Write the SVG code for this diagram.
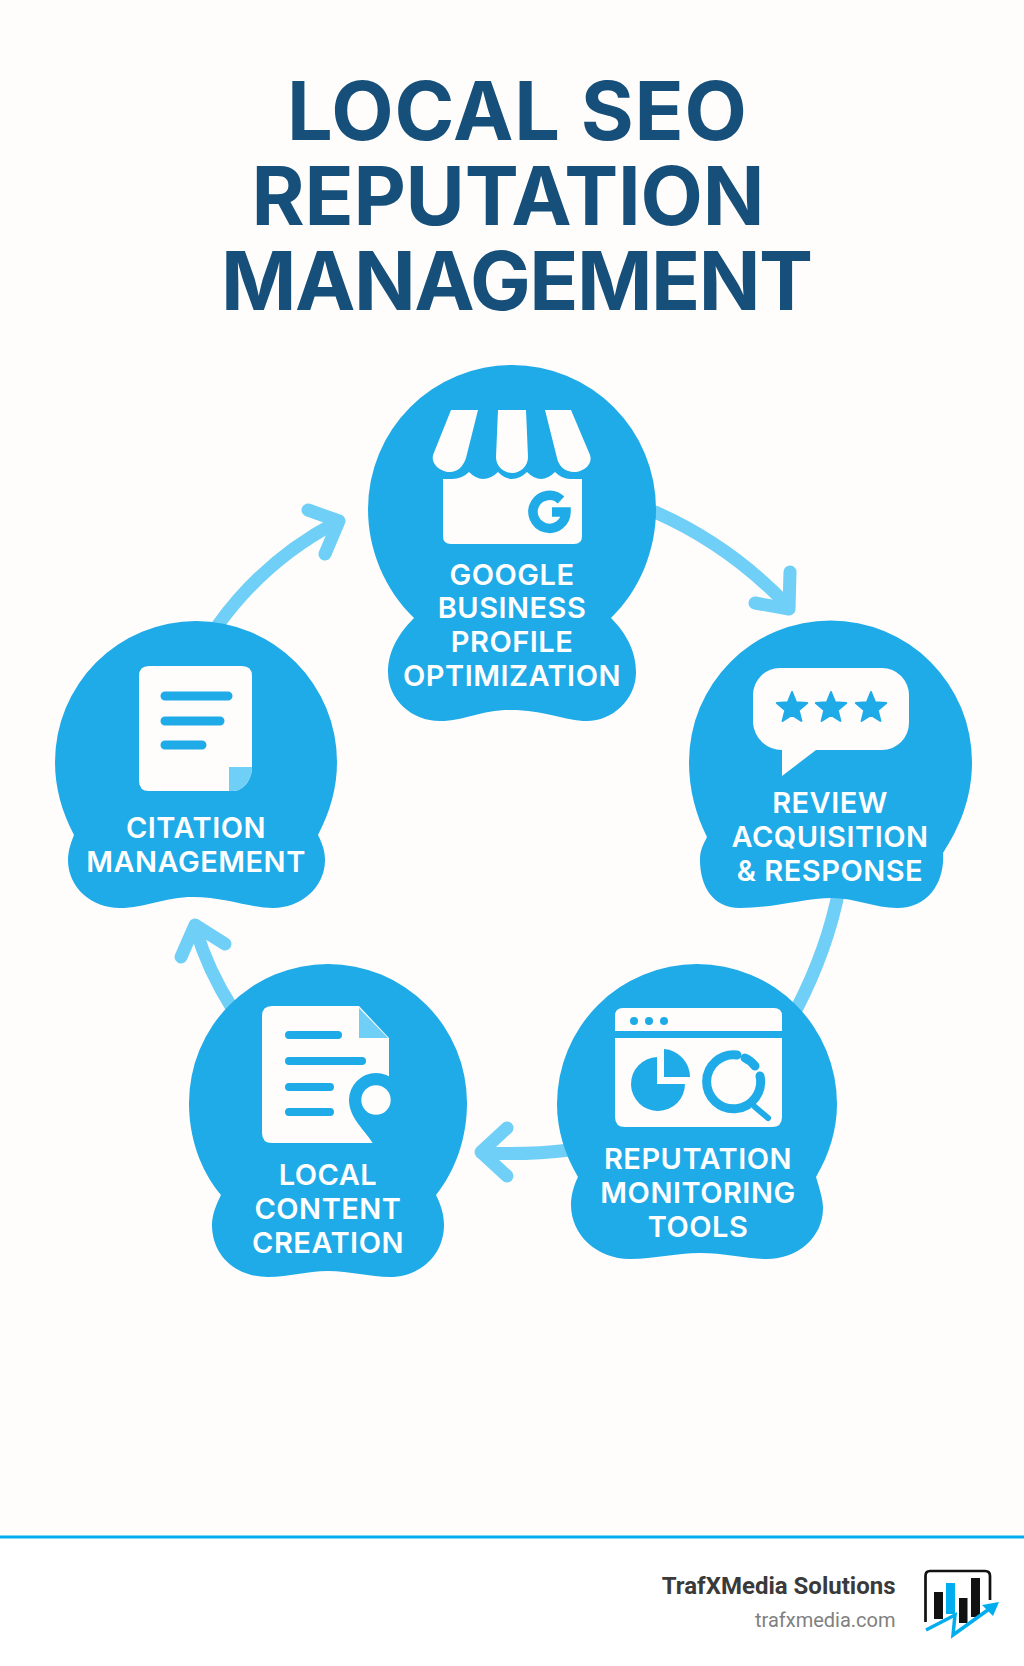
<svg xmlns="http://www.w3.org/2000/svg" width="1024" height="1666" viewBox="0 0 1024 1666">
<style>
.blob{fill:#1faae8}
.w{fill:#fffdfb}
.b{stroke:#1faae8;fill:none;stroke-linecap:round}
.lbl{font-family:Inter,"Liberation Sans",sans-serif;font-weight:600;font-size:29px;letter-spacing:.5px;fill:#fff;text-anchor:middle}
.ttl{font-family:Inter,"Liberation Sans",sans-serif;font-weight:700;font-size:81px;fill:#164f7a;text-anchor:middle}
.arr{fill:none;stroke:#6fcff6;stroke-width:13;stroke-linecap:round;stroke-linejoin:round}
</style>
<defs>
<polygon id="star" points="0,-16 4.1,-5.7 15.2,-4.9 6.7,2.2 9.4,12.9 0,7 -9.4,12.9 -6.7,2.2 -15.2,-4.9 -4.1,-5.7" fill="#1faae8" stroke="#1faae8" stroke-width="2" stroke-linejoin="round"/>
</defs>
<rect width="1024" height="1666" fill="#fefdfb"/>
<rect y="1537" width="1024" height="129" fill="#fff"/>
<rect y="1535.5" width="1024" height="3" fill="#00aeef"/>
<g id="title">
<text class="ttl" x="517" y="140" textLength="460" lengthAdjust="spacing">LOCAL SEO</text>
<text class="ttl" x="508" y="225" textLength="513" lengthAdjust="spacing">REPUTATION</text>
<text class="ttl" x="517" y="310" textLength="592" lengthAdjust="spacing">MANAGEMENT</text>
</g>
<g id="connectors">
<path class="arr" d="M655,512 Q730,545 788,606"/>
<path class="arr" d="M755,603 L789,609 L790,572"/>
<path class="arr" d="M839,890 Q827,950 797,1008"/>
<path class="arr" d="M570,1150 Q530,1155 482,1153"/>
<path class="arr" d="M507,1128 L481,1152 L507,1176"/>
<path class="arr" d="M232,1008 Q208,970 196,930"/>
<path class="arr" d="M181,957 L195,925 L225,944"/>
<path class="arr" d="M218,625 Q265,560 335,523"/>
<path class="arr" d="M308,510 L339,521 L325,554"/>
</g>
<g id="node-google">
<path class="blob" d="M414,618 C385,590 368,550 368,509 A144,144 0 0 1 656,509 C656,550 640,590 611,618 C625,632 636,650 636,672 C636,700 612,721 587,721 C565,721 545,710 510,710 C480,710 465,721 440,721 C412,721 388,700 388,672 C388,650 400,632 414,618Z"/>
<path class="w" d="M451,410 H478 L466,458 C463,467 457,472 450,472 C440,472 431,464 433,455Z"/>
<path class="w" d="M498,410 H526 L528,457 A16,16 0 0 1 496,457Z"/>
<path class="w" d="M545,410 H571 L590,455 C593,464 584,472 574,472 C566,472 559,467 557,458Z"/>
<path class="w" d="M443,479 H452 Q462,479 469,472 Q476,479 483,479 Q491,479 498,472 Q505,479 512,479 Q520,479 527,472 Q534,479 541,479 Q548,479 555,472 Q562,479 570,479 H582 V536 Q582,544 574,544 H451 Q443,544 443,536Z"/>
<path class="b" style="stroke-linecap:butt" stroke-width="9.5" d="M561,500 A16.5,16.5 0 1 0 566,512 H552"/>
<text class="lbl" x="512" y="585">GOOGLE</text>
<text class="lbl" x="512" y="618">BUSINESS</text>
<text class="lbl" x="512" y="652">PROFILE</text>
<text class="lbl" x="512" y="686">OPTIMIZATION</text>
</g>
<g id="node-review">
<path class="blob" d="M707,837 C696,815 689,790 689,762 A141.5,141.5 0 0 1 972,762 C972,800 958,830 943,853 C945,880 930,908 897,908 C875,908 855,898 832,898 C805,898 775,908 740,908 C712,908 700,885 700,860 C700,850 703,845 707,837Z"/>
<path class="w" d="M780,668 H882 A27,27 0 0 1 909,695 V723 A27,27 0 0 1 882,750 H816 L782,776 V750 A29,29 0 0 1 753,723 V695 A27,27 0 0 1 780,668Z"/>
<use href="#star" x="792" y="708"/>
<use href="#star" x="831" y="708"/>
<use href="#star" x="871" y="708"/>
<text class="lbl" x="830" y="813">REVIEW</text>
<text class="lbl" x="830" y="847">ACQUISITION</text>
<text class="lbl" x="830" y="881">&amp; RESPONSE</text>
</g>
<g id="node-monitoring">
<path class="blob" d="M578,1177 C565,1155 557,1130 557,1104 A140,140 0 0 1 837,1104 C837,1130 829,1155 816,1177 C820,1190 823,1200 823,1208 C823,1238 797,1259 767,1259 C745,1259 725,1253 700,1253 C675,1253 655,1259 630,1259 C597,1259 571,1235 571,1205 C571,1195 574,1185 578,1177Z"/>
<path class="w" d="M615,1031 V1016 Q615,1008 623,1008 H774 Q782,1008 782,1016 V1031Z"/>
<path class="w" d="M615,1038 H782 V1117 Q782,1127 772,1127 H625 Q615,1127 615,1117Z"/>
<circle class="blob" cx="634" cy="1021" r="4"/>
<circle class="blob" cx="649" cy="1021" r="4"/>
<circle class="blob" cx="664" cy="1021" r="4"/>
<path class="blob" d="M657,1057 V1084 H685 A27,27 0 1 1 657,1057Z"/>
<path class="blob" d="M664,1049 A28,28 0 0 1 690,1077 H664Z"/>
<path class="b" stroke-width="9" d="M737,1055 A27,27 0 1 0 760,1076"/>
<path class="b" stroke-width="9" d="M745,1058 A27,27 0 0 1 755,1066"/>
<path class="b" stroke-width="6" d="M755,1107 L768,1118"/>
<text class="lbl" x="698" y="1169">REPUTATION</text>
<text class="lbl" x="698" y="1203">MONITORING</text>
<text class="lbl" x="698" y="1237">TOOLS</text>
</g>
<g id="node-content">
<path class="blob" d="M221,1195 C200,1170 189,1137 189,1103 A139,139 0 0 1 467,1103 C467,1137 456,1170 436,1195 C441,1205 444,1215 444,1225 C444,1255 420,1277 390,1277 C370,1277 350,1271 328,1271 C306,1271 290,1277 268,1277 C235,1277 212,1255 212,1225 C212,1215 216,1205 221,1195Z"/>
<path class="w" d="M272,1006 H359 L389,1038 V1143 H272 Q262,1143 262,1133 V1016 Q262,1006 272,1006Z"/>
<path d="M359,1008 L388,1038 H359Z" fill="#6fcff6"/>
<path class="b" stroke-width="8" d="M289,1035 H338 M289,1061 H362 M289,1087 H330 M289,1112 H330"/>
<path class="blob" d="M374,1145 C365,1130 349,1118 349,1100 A27,27 0 0 1 403,1100 V1145Z"/>
<circle class="w" cx="376" cy="1100" r="14.7"/>
<text class="lbl" x="328" y="1185">LOCAL</text>
<text class="lbl" x="328" y="1219">CONTENT</text>
<text class="lbl" x="328" y="1253">CREATION</text>
</g>
<g id="node-citation">
<path class="blob" d="M74,835 C62,812 55,788 55,762 A141,141 0 0 1 337,762 C337,788 330,812 318,835 C323,845 325,852 325,860 C325,888 300,908 273,908 C250,908 225,897 193,897 C165,897 145,908 120,908 C92,908 68,888 68,860 C68,852 70,845 74,835Z"/>
<path class="w" d="M149,666 H242 Q252,666 252,676 V767 C252,780 243,791 233,791 H149 Q139,791 139,781 V676 Q139,666 149,666Z"/>
<path class="b" stroke-width="9" d="M165,696 H228 M165,721 H220 M165,745 H202"/>
<path d="M229,767 H252 C252,780 243,791 233,791 H229Z" fill="#6fcff6"/>
<text class="lbl" x="196" y="838">CITATION</text>
<text class="lbl" x="196" y="872">MANAGEMENT</text>
</g>
<g id="footer">
<text x="895.500" y="1594" text-anchor="end" font-family="Roboto,sans-serif" font-weight="700" font-size="24" fill="#3a3a3a">TrafXMedia Solutions</text>
<text x="895.500" y="1627" text-anchor="end" font-family="Roboto,sans-serif" font-size="20" fill="#808080">trafxmedia.com</text>
<path d="M925.5,1622 V1576 Q925.5,1571 930,1571 H985 Q990,1571 990,1576 V1600" fill="none" stroke="#111" stroke-width="2.7"/>
<rect x="934" y="1592" width="9" height="27" fill="#111"/>
<rect x="946" y="1583" width="9" height="31" fill="#00aeef"/>
<rect x="959" y="1598" width="8.500" height="25" fill="#111"/>
<rect x="971" y="1578" width="9" height="39" fill="#111"/>
<path d="M926,1630 L955,1615 L953,1635 L992,1607" fill="none" stroke="#00aeef" stroke-width="3.500"/>
<path d="M999,1602 L982,1605 L993,1616Z" fill="#00aeef"/>
</g>
</svg>
